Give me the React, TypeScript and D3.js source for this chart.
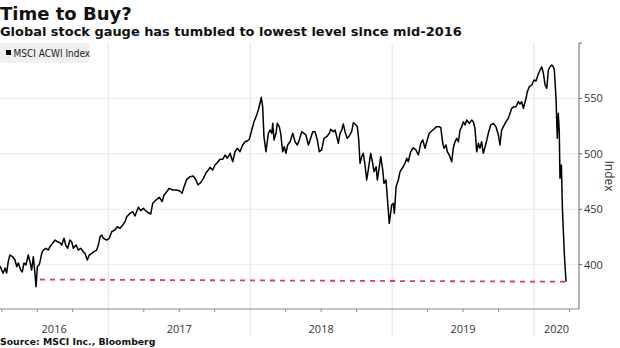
import React from 'react';
import * as d3 from 'd3';

const title = 'Time to Buy?';
const subtitle = 'Global stock gauge has tumbled to lowest level since mid-2016';
const source = 'Source: MSCI Inc., Bloomberg';
const seriesName = 'MSCI ACWI Index';
const yAxisTitle = 'Index';
const yTicks = [400, 450, 500, 550];
const yearLabels = [2016, 2017, 2018, 2019, 2020];
const xDomain = [2016.237, 2020.317];
const yDomain = [360, 600];

// time in fractional years
const times = [
  2016.237, 2016.249, 2016.26, 2016.272, 2016.284, 2016.295, 2016.307, 2016.326, 2016.343, 2016.355,
  2016.366, 2016.383, 2016.394, 2016.406, 2016.42, 2016.436, 2016.448, 2016.46, 2016.472, 2016.484,
  2016.491, 2016.5, 2016.512, 2016.519, 2016.531, 2016.542, 2016.561, 2016.577, 2016.589, 2016.608,
  2016.625, 2016.641, 2016.66, 2016.672, 2016.688, 2016.7, 2016.714, 2016.73, 2016.742, 2016.754,
  2016.773, 2016.789, 2016.806, 2016.824, 2016.836, 2016.852, 2016.866, 2016.883, 2016.899, 2016.918,
  2016.93, 2016.942, 2016.954, 2016.965, 2016.989, 2017.007, 2017.024, 2017.047, 2017.064, 2017.083,
  2017.102, 2017.118, 2017.13, 2017.153, 2017.172, 2017.188, 2017.212, 2017.229, 2017.247, 2017.271,
  2017.299, 2017.313, 2017.336, 2017.36, 2017.379, 2017.393, 2017.412, 2017.43, 2017.454, 2017.477,
  2017.501, 2017.52, 2017.534, 2017.553, 2017.576, 2017.599, 2017.618, 2017.632, 2017.651, 2017.67,
  2017.689, 2017.705, 2017.717, 2017.736, 2017.752, 2017.768, 2017.787, 2017.806, 2017.823, 2017.839,
  2017.858, 2017.877, 2017.893, 2017.909, 2017.928, 2017.947, 2017.964, 2017.98, 2017.994, 2018.011,
  2018.027, 2018.046, 2018.057, 2018.069, 2018.078, 2018.088, 2018.097, 2018.111, 2018.128, 2018.14,
  2018.152, 2018.159, 2018.168, 2018.182, 2018.191, 2018.205, 2018.215, 2018.229, 2018.24, 2018.252,
  2018.264, 2018.281, 2018.3, 2018.316, 2018.332, 2018.346, 2018.363, 2018.379, 2018.393, 2018.41,
  2018.422, 2018.441, 2018.457, 2018.473, 2018.487, 2018.504, 2018.52, 2018.539, 2018.558, 2018.567,
  2018.586, 2018.598, 2018.61, 2018.621, 2018.633, 2018.645, 2018.656, 2018.668, 2018.684, 2018.698,
  2018.715, 2018.727, 2018.746, 2018.755, 2018.765, 2018.774, 2018.786, 2018.797, 2018.809, 2018.821,
  2018.832, 2018.849, 2018.863, 2018.873, 2018.887, 2018.896, 2018.91, 2018.92, 2018.934, 2018.943,
  2018.957, 2018.966, 2018.98, 2018.997, 2019.009, 2019.016, 2019.028, 2019.044, 2019.056, 2019.077,
  2019.091, 2019.103, 2019.114, 2019.131, 2019.149, 2019.168, 2019.185, 2019.202, 2019.216, 2019.232,
  2019.244, 2019.262, 2019.279, 2019.295, 2019.314, 2019.333, 2019.343, 2019.357, 2019.366, 2019.38,
  2019.389, 2019.403, 2019.42, 2019.431, 2019.443, 2019.455, 2019.467, 2019.479, 2019.491, 2019.502,
  2019.514, 2019.526, 2019.544, 2019.561, 2019.572, 2019.584, 2019.596, 2019.608, 2019.619, 2019.631,
  2019.643, 2019.662, 2019.678, 2019.695, 2019.713, 2019.732, 2019.749, 2019.76, 2019.772, 2019.784,
  2019.803, 2019.819, 2019.831, 2019.843, 2019.859, 2019.873, 2019.889, 2019.901, 2019.913, 2019.925,
  2019.944, 2019.953, 2019.967, 2019.984, 2020.0, 2020.014, 2020.03, 2020.043, 2020.054, 2020.066,
  2020.078, 2020.09, 2020.101, 2020.113, 2020.125, 2020.136, 2020.143, 2020.155, 2020.164, 2020.171,
  2020.178, 2020.183, 2020.193, 2020.2, 2020.207, 2020.214, 2020.221, 2020.226,
];

const values = [
  398.8, 395.2, 392.2, 397.0, 392.5, 402.7, 408.7, 407.2, 404.2, 398.2,
  401.5, 395.2, 393.4, 401.5, 399.7, 408.7, 402.7, 395.2, 407.2, 390.7,
  380.1, 398.2, 399.7, 402.7, 410.2, 413.2, 414.8, 413.2, 416.2, 419.3,
  422.2, 420.7, 419.8, 417.7, 423.8, 417.7, 414.8, 422.2, 420.7, 414.8,
  417.7, 413.2, 414.8, 411.7, 410.2, 404.2, 408.7, 410.2, 411.7, 413.2,
  417.7, 425.2, 426.8, 423.8, 422.2, 423.8, 429.7, 431.3, 434.2, 432.8,
  435.8, 438.8, 443.3, 446.3, 447.8, 443.9, 451.8, 448.7, 450.8, 447.8,
  445.7, 455.4, 458.3, 460.8, 456.8, 462.9, 465.8, 468.9, 467.4, 467.4,
  466.7, 464.4, 470.3, 477.0, 479.4, 480.0, 476.4, 471.9, 474.0, 477.9,
  483.0, 485.4, 487.8, 485.4, 489.9, 492.0, 495.1, 495.1, 498.9, 496.0,
  500.5, 492.9, 501.9, 505.0, 501.9, 508.0, 510.9, 511.8, 513.1, 521.5,
  529.0, 535.0, 539.5, 545.6, 551.0, 542.5, 515.5, 501.9, 518.5, 521.5,
  518.5, 527.5, 512.5, 518.5, 527.5, 524.5, 518.5, 501.9, 506.4, 500.5,
  508.0, 510.9, 518.5, 510.9, 508.0, 512.5, 520.0, 518.5, 517.0, 508.0,
  512.5, 520.0, 520.0, 512.5, 501.9, 503.5, 514.0, 515.5, 518.5, 522.1,
  520.0, 521.5, 515.5, 509.5, 518.5, 521.5, 526.9, 520.0, 514.0, 516.1,
  520.0, 528.1, 526.0, 524.5, 512.5, 491.5, 497.4, 500.5, 489.9, 476.4,
  485.4, 500.5, 491.5, 483.9, 488.4, 476.4, 488.4, 497.4, 485.4, 473.4,
  476.4, 461.3, 437.3, 453.8, 455.4, 446.3, 470.3, 476.4, 483.9, 488.1,
  491.5, 496.0, 492.9, 501.9, 505.5, 503.5, 498.9, 509.5, 512.5, 505.0,
  510.9, 518.5, 520.6, 522.4, 524.5, 524.5, 523.6, 509.5, 505.0, 508.0,
  501.9, 498.9, 492.9, 505.0, 510.9, 514.0, 510.9, 521.5, 524.5, 529.0,
  526.0, 530.5, 527.5, 530.5, 529.0, 523.0, 501.9, 509.5, 505.0, 510.9,
  500.5, 509.5, 518.5, 526.0, 527.5, 524.5, 517.0, 508.0, 521.5, 524.5,
  529.0, 532.1, 536.6, 541.1, 542.5, 542.5, 547.0, 545.0, 547.0, 541.1,
  550.1, 556.1, 560.6, 562.1, 566.6, 565.7, 572.0, 575.6, 578.6, 572.7,
  562.1, 559.1, 575.6, 578.6, 580.1, 578.6, 575.6, 550.1, 514.0, 536.6,
  520.0, 477.9, 489.9, 450.8, 429.7, 408.7, 393.6, 384.6,
];

// red dashed reference line (mid-2016 level vs latest)
const refTimes = [2016.519, 2020.226];
const refValues = [386.6, 384.6];

const W = 620;
const H = 348;
const M = { left: 0, right: 579, top: 43, bottom: 309 };

export default function App() {
  const x = d3.scaleLinear().domain(xDomain).range([M.left, M.right]);
  const y = d3.scaleLinear().domain(yDomain).range([M.bottom, M.top]);

  const pts = times.map((t, i) => [t, values[i]] as [number, number]);
  const line = d3
    .line<[number, number]>()
    .x((d) => x(d[0]))
    .y((d) => y(d[1]));
  const refPts = refTimes.map((t, i) => [t, refValues[i]] as [number, number]);

  const quarterTicks = d3.range(2016.25, xDomain[1], 0.25).filter((q) => Math.abs(q - Math.round(q)) > 1e-6);
  const yearLines = yearLabels.filter((yr) => yr > xDomain[0]);

  const labelFont = "'Open Sans', 'Noto Sans', sans-serif";
  const titleFont = "'DejaVu Sans', Verdana, sans-serif";

  return (
    <svg
      width={W}
      height={H}
      style={{ position: 'absolute', left: 0, top: 0, background: '#fff' }}
    >
      <rect x={0} y={0} width={W} height={H} fill="#fff" />
      <text x={0} y={20} fontFamily={titleFont} fontWeight="bold" fontSize={18} fill="#111">
        {title}
      </text>
      <text x={0} y={36} fontFamily={titleFont} fontWeight="bold" fontSize={12.95} fill="#111">
        {subtitle}
      </text>

      {/* horizontal gridlines */}
      {yTicks.map((v) => (
        <line key={'g' + v} x1={M.left} x2={M.right} y1={y(v)} y2={y(v)} stroke="#ebebeb" strokeWidth={1} />
      ))}
      {/* vertical year separators */}
      {yearLines.map((yr) => (
        <line key={'v' + yr} x1={x(yr)} x2={x(yr)} y1={M.top} y2={336} stroke="#e0e0e0" strokeWidth={1} />
      ))}

      {/* legend */}
      <rect x={0} y={43} width={89} height={20} fill="#f0f0f0" />
      <rect x={6} y={50} width={5} height={5} fill="#000" />
      <text
        x={13.5}
        y={56.5}
        fontFamily="'Liberation Sans Narrow', 'DejaVu Sans Condensed', sans-serif"
        fontSize={10}
        fill="#222"
      >
        {seriesName}
      </text>

      {/* reference dashed line */}
      <path
        d={line(refPts) || ''}
        fill="none"
        stroke="#e8375c"
        strokeWidth={1.8}
        strokeDasharray="5,5"
      />

      {/* series */}
      <path d={line(pts) || ''} fill="none" stroke="#000" strokeWidth={1.5} strokeLinejoin="round" />

      {/* bottom axis */}
      <line x1={M.left} x2={M.right} y1={M.bottom} y2={M.bottom} stroke="#8c8c8c" strokeWidth={1} />
      {quarterTicks.map((q) => (
        <line key={'q' + q} x1={x(q)} x2={x(q)} y1={M.bottom} y2={M.bottom + 3} stroke="#8c8c8c" />
      ))}
      {yearLabels.map((yr) => {
        const a = Math.max(yr, xDomain[0]);
        const b = Math.min(yr + 1, xDomain[1]);
        return (
          <text
            key={'yl' + yr}
            x={x((a + b) / 2)}
            y={333}
            textAnchor="middle"
            fontFamily={labelFont}
            fontSize={11}
            fill="#333"
          >
            {yr}
          </text>
        );
      })}

      {/* right axis */}
      <line x1={M.right} x2={M.right} y1={M.top} y2={M.bottom} stroke="#666" strokeWidth={1} />
      <line x1={M.right} x2={M.right + 3} y1={M.top} y2={M.top} stroke="#666" />
      {yTicks.map((v) => (
        <g key={'yt' + v}>
          <line x1={M.right} x2={M.right + 3} y1={y(v)} y2={y(v)} stroke="#666" />
          <text
            x={M.right + 5}
            y={y(v)}
            dy="0.35em"
            fontFamily={labelFont}
            fontSize={11}
            fill="#333"
          >
            {v}
          </text>
        </g>
      ))}
      <text
        transform={`translate(605, ${(M.top + M.bottom) / 2}) rotate(90)`}
        textAnchor="middle"
        fontFamily={labelFont}
        fontSize={12}
        fill="#333"
      >
        {yAxisTitle}
      </text>

      <text x={0} y={345} fontFamily={titleFont} fontWeight="bold" fontSize={9.3} fill="#111">
        {source}
      </text>
    </svg>
  );
}
